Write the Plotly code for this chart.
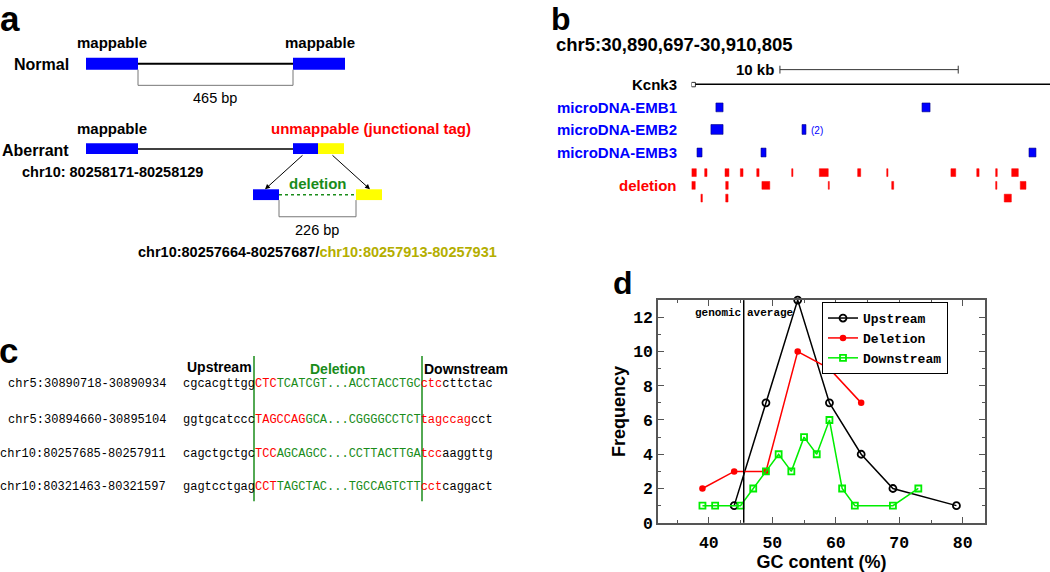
import plotly.graph_objects as go

W, H = 1050, 572
SANS = "Liberation Sans, Arial, sans-serif"
MONO = "Liberation Mono, Courier New, monospace"
BLUE = "#0000ff"
RED = "#ff0000"
GREEN = "#1a8c1a"
LIME = "#00ee00"
YELLOW = "#ffff00"
OLIVE = "#b4ae00"

# ---------------- panel d data ----------------
gc_up = [44, 49, 54, 59, 64, 69, 79]
freq_up = [1, 7, 13, 7, 4, 2, 1]
gc_del = [39, 44, 49, 54, 59, 64]
freq_del = [2, 3, 3, 10, 9, 7]
gc_down = [39, 41, 45, 47, 49, 51, 53, 55, 57, 59, 61, 63, 69, 73]
freq_down = [1, 1, 1, 2, 3, 4, 3, 5, 4, 6, 2, 1, 1, 2]
genomic_average = 45.5
x_ticks = [40, 50, 60, 70, 80]
y_ticks = [0, 2, 4, 6, 8, 10, 12]

# ---------------- panel b data (kb from region start) ----------------
region_label = "chr5:30,890,697-30,910,805"
region_kb = 20.108
scale_start_kb = 4.96
scale_len_kb = 10
track_names = ["microDNA-EMB1", "microDNA-EMB2", "microDNA-EMB3"]
emb1_blocks = [(1.37, 1.77), (12.93, 13.38)]
emb2_blocks = [(1.09, 1.77), (6.20, 6.42)]
emb3_blocks = [(0.31, 0.59), (3.90, 4.18), (18.93, 19.32)]
deletion_row1 = [(0.01, 0.27), (0.74, 0.87), (1.88, 2.10), (2.74, 2.89), (3.66, 3.79),
                 (5.62, 5.69), (7.17, 7.67), (9.32, 9.49), (10.95, 11.02), (14.55, 14.82),
                 (16.00, 16.13), (17.06, 17.15), (17.96, 18.33)]
deletion_row2 = [(0.01, 0.21), (1.92, 2.06), (3.95, 4.39), (7.67, 7.73), (11.23, 11.34),
                 (17.06, 17.13), (18.44, 18.76)]
deletion_row3 = [(0.53, 0.61), (1.92, 2.05), (17.54, 17.94)]

# ---------------- panel c data ----------------
c_coords = ["chr5:30890718-30890934", "chr5:30894660-30895104",
            "chr10:80257685-80257911", "chr10:80321463-80321597"]
c_upstream = ["cgcacgttgg", "ggtgcatccc", "cagctgctgc", "gagtcctgag"]
c_del_red = ["CTC", "TAGCCAG", "TCC", "CCT"]
c_del_green = ["TCATCGT...ACCTACCTGC", "GCA...CGGGGCCTCT", "AGCAGCC...CCTTACTTGA", "TAGCTAC...TGCCAGTCTT"]
c_down_red = ["ctc", "tagccag", "tcc", "cct"]
c_down_black = ["cttctac", "cct", "aaggttg", "caggact"]

fig = go.Figure()

# panel d traces
fig.add_trace(go.Scatter(x=gc_up, y=freq_up, mode="lines+markers", name="Upstream",
                         line=dict(color="black", width=1.5), cliponaxis=False,
                         marker=dict(symbol="circle-open", size=7, color="black", line=dict(width=1.8))))
fig.add_trace(go.Scatter(x=gc_del, y=freq_del, mode="lines+markers", name="Deletion",
                         line=dict(color=RED, width=1.5), cliponaxis=False,
                         marker=dict(symbol="circle", size=6.5, color=RED)))
fig.add_trace(go.Scatter(x=gc_down, y=freq_down, mode="lines+markers", name="Downstream",
                         line=dict(color=LIME, width=1.5), cliponaxis=False,
                         marker=dict(symbol="square-open", size=6, color=LIME, line=dict(width=1.8))))
# invisible traces that create the helper axes used for the diagrams
fig.add_trace(go.Scatter(x=[0], y=[0], xaxis="x2", yaxis="y2", mode="markers",
                         marker=dict(opacity=0), showlegend=False, hoverinfo="skip"))
fig.add_trace(go.Scatter(x=[0], y=[0], xaxis="x3", yaxis="y2", mode="markers",
                         marker=dict(opacity=0), showlegend=False, hoverinfo="skip"))

shapes = []
ann = []


def P(x, y, text, size=15, color="black", anchor="left", family=SANS, bold=True, va="middle", xshift=0):
    t = f"<b>{text}</b>" if bold else text
    ann.append(dict(x=x, y=y, xref="x2", yref="y2", text=t, showarrow=False, xshift=xshift,
                    xanchor=anchor, yanchor=va, font=dict(size=size, color=color, family=family)))


def rect(x0, x1, y0, y1, fill, line="rgba(0,0,0,0)", lw=0, xref="x2"):
    shapes.append(dict(type="rect", xref=xref, yref="y2", x0=x0, x1=x1, y0=y0, y1=y1,
                       fillcolor=fill, line=dict(color=line, width=lw)))


def seg(x0, y0, x1, y1, color="black", width=1, dash="solid", xref="x2"):
    shapes.append(dict(type="line", xref=xref, yref="y2", x0=x0, y0=y0, x1=x1, y1=y1,
                       line=dict(color=color, width=width, dash=dash)))


def path(d, color="#777777", width=1):
    shapes.append(dict(type="path", xref="x2", yref="y2", path=d, line=dict(color=color, width=width)))


# ---------------- panel letters ----------------
P(0, 19, "a", size=35, xshift=-2)
P(549, 19, "b", size=32)
P(0, 357, "c", size=35, xshift=-3)
P(611, 289, "d", size=32)

# ---------------- panel a ----------------
P(112, 43, "mappable", anchor="center")
P(320, 43, "mappable", anchor="center")
P(71, 66, "Normal", size=16, anchor="right")
rect(86, 138, 59, 71, BLUE)
rect(293, 345, 59, 71, BLUE)
seg(138, 65, 293, 65, "black", 2)
path("M138,71 L138,87 L293,87 L293,71")
P(215, 100, "465 bp", size=14.5, anchor="center", bold=False)

P(112, 131, "mappable", anchor="center")
P(371, 131, "unmappable (junctional tag)", color=RED, anchor="center")
P(71, 153, "Aberrant", size=16, anchor="right")
rect(86, 138, 146, 157, BLUE)
seg(138, 152, 293, 152, "black", 1.5)
rect(293, 318, 146, 157, BLUE)
rect(318, 344, 146, 157, YELLOW)
P(20, 175, "chr10: 80258171-80258129", size=14.5)
ann.append(dict(x=265, y=193, ax=304, ay=157, xref="x2", yref="y2", axref="x2", ayref="y2",
                text="", showarrow=True, arrowhead=2, arrowsize=1, arrowwidth=1, arrowcolor="black"))
ann.append(dict(x=370, y=193, ax=331, ay=157, xref="x2", yref="y2", axref="x2", ayref="y2",
                text="", showarrow=True, arrowhead=2, arrowsize=1, arrowwidth=1, arrowcolor="black"))
P(318, 187, "deletion", color=GREEN, anchor="center")
rect(253, 279, 193, 204, BLUE)
rect(356, 382, 193, 204, YELLOW)
seg(279, 198.5, 356, 198.5, GREEN, 1.5, "dot")
path("M279,204 L279,221 L356,221 L356,204")
P(317, 234, "226 bp", size=14.5, anchor="center", bold=False)
P(136, 257, "chr10:80257664-80257687/<span style='color:%s'>chr10:80257913-80257931</span>" % OLIVE,
  size=14.5)

# ---------------- panel b ----------------
P(554, 45, region_label, size=18.5)
P(776, 71, "10 kb", size=15, anchor="right")
seg(scale_start_kb, 71, scale_start_kb + scale_len_kb, 71, "#333333", 1, xref="x3")
seg(scale_start_kb, 67, scale_start_kb, 75, "#333333", 1, xref="x3")
seg(scale_start_kb + scale_len_kb, 67, scale_start_kb + scale_len_kb, 75, "#333333", 1, xref="x3")
P(679, 86, "Kcnk3", size=15, anchor="right")
rect(0.0, 0.22, 84, 88.5, "white", "#333333", 1, xref="x3")
seg(0.22, 86, region_kb, 86, "black", 1.5, xref="x3")

track_y = [(105, 114), (127, 137), (151, 160)]
for name, blocks, (y0, y1) in zip(track_names, [emb1_blocks, emb2_blocks, emb3_blocks], track_y):
    P(679, (y0 + y1) / 2, name, size=15, color=BLUE, anchor="right")
    for b0, b1 in blocks:
        rect(b0, b1, y0, y1, BLUE, "#000080", 0.6, xref="x3")
P(809, 133, "(2)", size=10, color=BLUE, bold=False)

P(679, 189, "deletion", size=15, color=RED, anchor="right")
for row, (y0, y1) in zip([deletion_row1, deletion_row2, deletion_row3],
                         [(172, 180), (185, 193), (198, 206)]):
    for b0, b1 in row:
        rect(b0, b1, y0, y1, RED, RED, 0.5, xref="x3")

# ---------------- panel c ----------------
P(219, 374, "Upstream", size=14, anchor="center")
P(337, 376, "Deletion", size=14, color=GREEN, anchor="center")
P(466, 376, "Downstream", size=14, anchor="center")
seg(254, 363, 254, 511, GREEN, 1.5)
seg(422, 363, 422, 511, GREEN, 1.5)
row_y = [392, 428, 463, 497]
for i, y in enumerate(row_y):
    P(168, y, c_coords[i], size=12, anchor="right", family=MONO, bold=False)
    txt = (c_upstream[i]
           + f"<span style='color:{RED}'>{c_del_red[i]}</span>"
           + f"<span style='color:{GREEN}'>{c_del_green[i]}</span>"
           + f"<span style='color:{RED}'>{c_down_red[i]}</span>"
           + c_down_black[i])
    P(181, y, txt, size=12, anchor="left", family=MONO, bold=False)

# ---------------- panel d extras ----------------
shapes.append(dict(type="line", xref="x", yref="y domain", x0=genomic_average, x1=genomic_average,
                   y0=0, y1=1, line=dict(color="black", width=1.5)))
ann.append(dict(x=genomic_average, y=12.25, xref="x", yref="y", text="<b>genomic</b>", showarrow=False,
                xanchor="right", xshift=-1, font=dict(size=11, family=MONO, color="black")))
ann.append(dict(x=genomic_average, y=12.25, xref="x", yref="y", text="<b>average</b>", showarrow=False,
                xanchor="left", xshift=1, font=dict(size=11, family=MONO, color="black")))

axis_common = dict(showline=True, linecolor="#555555", linewidth=1.5, mirror="ticks",
                   ticks="inside", ticklen=6, tickcolor="#555555", tickwidth=1.2,
                   showgrid=False, zeroline=False,
                   tickfont=dict(family=MONO, size=16.5, color="black", weight="bold"))

fig.update_layout(
    width=W, height=H,
    margin=dict(l=0, r=0, t=0, b=0),
    paper_bgcolor="white", plot_bgcolor="rgba(0,0,0,0)",
    showlegend=True,
    legend=dict(x=822 / W, y=1 - 308 / H, xanchor="left", yanchor="top",
                bgcolor="white", bordercolor="black", borderwidth=1,
                font=dict(family=MONO, size=13, color="black", weight="bold"),
                itemwidth=30, tracegroupgap=0),
    xaxis=dict(domain=[658 / W, 985 / W], range=[32, 83.5], tickvals=x_ticks,
               minor=dict(dtick=5, ticks="inside", ticklen=3, tickcolor="#555555"),
               ticklabelstandoff=4,
               title=dict(text="<b>GC content (%)</b>", font=dict(family=SANS, size=18, color="black"),
                          standoff=3),
               anchor="y", **axis_common),
    yaxis=dict(domain=[1 - 533 / H, 1 - 306 / H], range=[0, 13], tickvals=y_ticks,
               minor=dict(dtick=1, ticks="inside", ticklen=3, tickcolor="#555555"),
               title=dict(text="<b>Frequency</b>", font=dict(family=SANS, size=18, color="black"),
                          standoff=3),
               anchor="x", **axis_common),
    xaxis2=dict(domain=[0, 1], range=[0, W], visible=False, anchor="y2", fixedrange=True),
    yaxis2=dict(domain=[0, 1], range=[H, 0], visible=False, anchor="x2", fixedrange=True),
    xaxis3=dict(domain=[691.5 / W, 1], range=[0, region_kb], visible=False, anchor="y2", fixedrange=True),
    shapes=shapes,
    annotations=ann,
)

fig.write_html("out.html", config={"displayModeBar": False},
               post_script="document.body.style.margin='0px';document.body.style.overflow='hidden';")
